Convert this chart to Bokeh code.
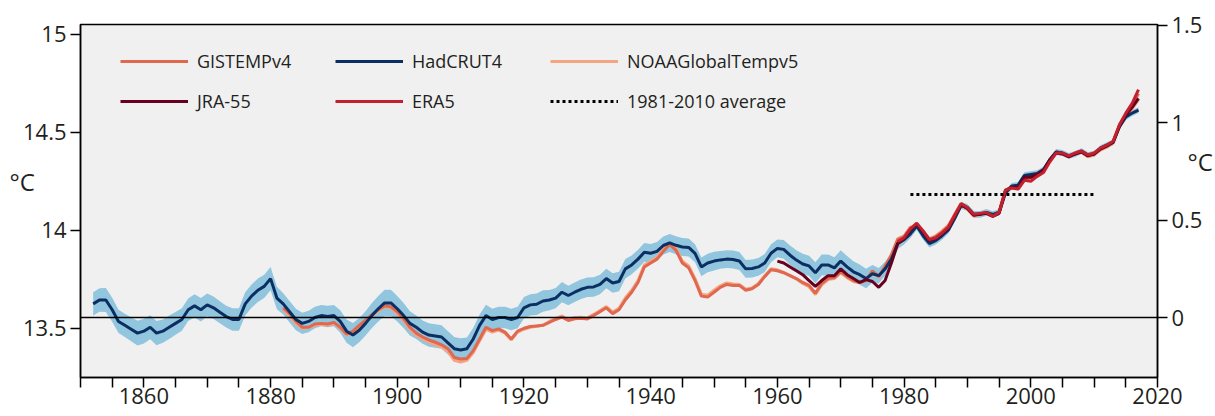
from bokeh.plotting import figure
from bokeh.models import Range1d, LinearAxis, FixedTicker, Span, Legend, LegendItem
from bokeh.embed import file_html
from bokeh.resources import INLINE

FONT = "Open Sans"

# ---------------- data (anomaly vs 1850-1900, degC) ----------------
hadcrut_years = list(range(1852, 2018))
hadcrut4 = [
    0.07, 0.09, 0.09, 0.04, -0.02, -0.04, -0.06, -0.08, -0.07, -0.05,
    -0.08, -0.07, -0.05, -0.03, -0.01, 0.04, 0.06, 0.04, 0.065, 0.05,
    0.027, 0.005, -0.01, -0.01, 0.07, 0.11, 0.14, 0.16, 0.20, 0.10,
    0.07, 0.03, -0.01, -0.03, -0.02, 0.0, 0.01, 0.005, 0.01, -0.02,
    -0.07, -0.09, -0.065, -0.03, 0.01, 0.045, 0.075, 0.075, 0.045, 0.01,
    -0.03, -0.05, -0.075, -0.09, -0.095, -0.10, -0.13, -0.16, -0.167, -0.16,
    -0.11, -0.04, 0.01, -0.01, 0.0, 0.0, -0.01, 0.0, 0.05, 0.065,
    0.068, 0.085, 0.09, 0.10, 0.13, 0.113, 0.13, 0.145, 0.155, 0.157,
    0.17, 0.20, 0.177, 0.185, 0.25, 0.27, 0.30, 0.335, 0.33, 0.34,
    0.37, 0.383, 0.371, 0.362, 0.36, 0.33, 0.26, 0.28, 0.29, 0.296,
    0.30, 0.298, 0.29, 0.25, 0.252, 0.26, 0.28, 0.33, 0.355, 0.35,
    0.32, 0.295, 0.275, 0.265, 0.23, 0.27, 0.27, 0.255, 0.29, 0.26,
    0.235, 0.22, 0.20, 0.225, 0.215, 0.25, 0.30, 0.38, 0.40, 0.43,
    0.47, 0.42, 0.38, 0.395, 0.42, 0.45, 0.51, 0.575, 0.565, 0.53,
    0.53, 0.54, 0.53, 0.54, 0.64, 0.675, 0.68, 0.73, 0.735, 0.74,
    0.76, 0.81, 0.85, 0.845, 0.83, 0.84, 0.855, 0.835, 0.84, 0.87,
    0.885, 0.90, 0.98, 1.03, 1.05, 1.065,
]
hadcrut4_unc = [
    0.060, 0.060, 0.062, 0.062, 0.060, 0.060, 0.062, 0.064, 0.064, 0.062,
    0.062, 0.060, 0.060, 0.058, 0.058, 0.058, 0.060, 0.060, 0.058, 0.058,
    0.056, 0.056, 0.058, 0.058, 0.060, 0.060, 0.060, 0.060, 0.060, 0.058,
    0.055, 0.055, 0.055, 0.055, 0.055, 0.055, 0.055, 0.055, 0.055, 0.058,
    0.060, 0.062, 0.062, 0.062, 0.064, 0.066, 0.068, 0.068, 0.066, 0.064,
    0.062, 0.060, 0.060, 0.060, 0.060, 0.060, 0.060, 0.060, 0.060, 0.058,
    0.058, 0.056, 0.056, 0.055, 0.055, 0.055, 0.055, 0.055, 0.055, 0.055,
    0.055, 0.055, 0.052, 0.052, 0.052, 0.050, 0.050, 0.050, 0.050, 0.050,
    0.050, 0.050, 0.050, 0.050, 0.050, 0.048, 0.048, 0.048, 0.048, 0.048,
    0.046, 0.046, 0.046, 0.046, 0.046, 0.046, 0.048, 0.048, 0.048, 0.046,
    0.046, 0.046, 0.046, 0.046, 0.046, 0.046, 0.046, 0.046, 0.046, 0.048,
    0.050, 0.050, 0.052, 0.052, 0.054, 0.054, 0.054, 0.054, 0.056, 0.056,
    0.054, 0.052, 0.050, 0.045, 0.040, 0.036, 0.032, 0.028, 0.025, 0.022,
    0.020, 0.020, 0.020, 0.020, 0.020, 0.018, 0.018, 0.018, 0.018, 0.017,
    0.017, 0.017, 0.016, 0.016, 0.016, 0.016, 0.016, 0.016, 0.016, 0.016,
    0.015, 0.015, 0.015, 0.015, 0.015, 0.015, 0.015, 0.015, 0.015, 0.015,
    0.015, 0.015, 0.015, 0.015, 0.015, 0.015,
]

sst_years = list(range(1882, 2018))
gistemp4 = [
    0.05, 0.02, -0.02, -0.05, -0.05, -0.033, -0.03, -0.033, -0.025, -0.05,
    -0.085, -0.07, -0.04, -0.013, 0.015, 0.04, 0.06, 0.055, 0.03, -0.005,
    -0.05, -0.08, -0.10, -0.115, -0.127, -0.14, -0.16, -0.205, -0.213, -0.21,
    -0.17, -0.11, -0.05, -0.067, -0.058, -0.075, -0.11, -0.07, -0.055, -0.046,
    -0.043, -0.04, -0.025, -0.01, 0.002, -0.015, -0.006, -0.004, -0.007, 0.01,
    0.03, 0.05, 0.02, 0.04, 0.09, 0.13, 0.18, 0.26, 0.28, 0.30,
    0.34, 0.375, 0.345, 0.28, 0.255, 0.19, 0.11, 0.105, 0.13, 0.155,
    0.17, 0.165, 0.165, 0.14, 0.148, 0.17, 0.21, 0.245, 0.24, 0.23,
    0.215, 0.20, 0.18, 0.165, 0.125, 0.175, 0.20, 0.205, 0.235, 0.21,
    0.19, 0.18, 0.19, 0.24, 0.21, 0.265, 0.32, 0.40, 0.415, 0.46,
    0.47, 0.445, 0.40, 0.415, 0.44, 0.47, 0.53, 0.585, 0.56, 0.525,
    0.535, 0.54, 0.525, 0.545, 0.655, 0.67, 0.665, 0.715, 0.72, 0.74,
    0.75, 0.805, 0.85, 0.845, 0.83, 0.845, 0.855, 0.835, 0.845, 0.87,
    0.885, 0.905, 0.99, 1.045, 1.09, 1.15,
]
noaa5 = [
    0.04, 0.01, -0.03, -0.055, -0.05, -0.04, -0.035, -0.04, -0.03, -0.055,
    -0.09, -0.08, -0.05, -0.02, 0.01, 0.035, 0.055, 0.05, 0.02, -0.015,
    -0.06, -0.09, -0.11, -0.125, -0.14, -0.15, -0.175, -0.22, -0.228, -0.22,
    -0.18, -0.12, -0.06, -0.075, -0.065, -0.08, -0.115, -0.075, -0.06, -0.05,
    -0.045, -0.04, -0.02, -0.005, 0.008, -0.01, 0.0, 0.002, -0.002, 0.016,
    0.036, 0.056, 0.028, 0.048, 0.10, 0.14, 0.19, 0.27, 0.29, 0.31,
    0.35, 0.38, 0.355, 0.29, 0.265, 0.20, 0.12, 0.115, 0.14, 0.163,
    0.178, 0.172, 0.17, 0.145, 0.152, 0.175, 0.215, 0.25, 0.245, 0.232,
    0.215, 0.198, 0.175, 0.158, 0.118, 0.168, 0.195, 0.20, 0.23, 0.205,
    0.185, 0.178, 0.19, 0.235, 0.205, 0.26, 0.325, 0.405, 0.42, 0.465,
    0.465, 0.44, 0.405, 0.42, 0.445, 0.475, 0.525, 0.58, 0.555, 0.52,
    0.53, 0.535, 0.52, 0.54, 0.65, 0.665, 0.66, 0.71, 0.715, 0.735,
    0.745, 0.80, 0.845, 0.84, 0.825, 0.84, 0.85, 0.825, 0.835, 0.86,
    0.875, 0.895, 0.98, 1.035, 1.07, 1.12,
]

jra_years = list(range(1960, 2018))
jra55 = [
    0.29, 0.28, 0.26, 0.24, 0.22, 0.19, 0.16, 0.19, 0.215, 0.215,
    0.25, 0.22, 0.20, 0.18, 0.195, 0.185, 0.155, 0.19, 0.28, 0.38,
    0.405, 0.45, 0.48, 0.44, 0.395, 0.405, 0.43, 0.46, 0.52, 0.58,
    0.56, 0.525, 0.53, 0.535, 0.52, 0.535, 0.65, 0.67, 0.665, 0.72,
    0.72, 0.735, 0.755, 0.81, 0.845, 0.84, 0.825, 0.84, 0.85, 0.83,
    0.84, 0.865, 0.88, 0.90, 0.985, 1.04, 1.08, 1.125,
]

era_years = list(range(1979, 2018))
era5 = [
    0.39, 0.41, 0.455, 0.485, 0.445, 0.40, 0.41, 0.435, 0.465, 0.525,
    0.585, 0.565, 0.53, 0.535, 0.54, 0.52, 0.54, 0.655, 0.665, 0.66,
    0.705, 0.70, 0.725, 0.745, 0.80, 0.845, 0.845, 0.83, 0.845, 0.855,
    0.835, 0.845, 0.87, 0.885, 0.905, 0.99, 1.05, 1.10, 1.17,
]

avg_years = [1981, 2010]
avg_value = 0.632

x_ticks = list(range(1850, 2021, 5))
left_ticks = [13.5, 14, 14.5, 15]
right_ticks = [0, 0.5, 1, 1.5]

# ---------------- colours ----------------
C_BAND = "#92c5de"
C_HAD = "#0b2f62"
C_GIS = "#e0684f"
C_NOAA = "#f4a582"
C_JRA = "#67001f"
C_ERA = "#c3202f"
TXT = "#231f20"

p = figure(width=1215, height=416, output_backend="svg", toolbar_location=None,
           x_range=Range1d(1850, 2020), y_range=Range1d(13.25, 15.051),
           min_border_left=80, min_border_right=57, min_border_top=24, min_border_bottom=39)
p.extra_y_ranges = {"anom": Range1d(-0.308, 1.505)}
right_axis = LinearAxis(y_range_name="anom", ticker=FixedTicker(ticks=right_ticks))
right_axis.major_label_overrides = {0: "0", 0.5: "0.5", 1: "1", 1.5: "1.5"}
right_axis.axis_label = "°C\n \n "
right_axis.axis_label_standoff = -18
p.add_layout(right_axis, "right")

left_axis = p.yaxis[0]
left_axis.ticker = FixedTicker(ticks=left_ticks)
left_axis.major_label_overrides = {13.5: "13.5", 14: "14", 14.5: "14.5", 15: "15"}
left_axis.axis_label = "°C\n "
left_axis.axis_label_standoff = -15

p.xaxis.ticker = FixedTicker(ticks=x_ticks)
p.xaxis.major_label_overrides = {t: (str(t) if t % 20 == 0 and t > 1850 else "") for t in x_ticks}

for ax in p.axis:
    ax.axis_line_color = "black"
    ax.axis_line_width = 1.5
    ax.major_tick_line_color = "black"
    ax.major_tick_line_width = 1.5
    ax.major_tick_out = 10
    ax.major_tick_in = 0
    ax.minor_tick_out = 0
    ax.minor_tick_in = 0
    ax.major_label_text_font = FONT
    ax.major_label_text_font_size = "22px"
    ax.major_label_text_color = TXT
    ax.major_label_standoff = 4
    ax.axis_label_text_font = FONT
    ax.axis_label_text_font_size = "24px"
    ax.axis_label_text_font_style = "normal"
    ax.axis_label_text_color = TXT
    ax.axis_label_orientation = "horizontal"
p.xaxis.major_label_standoff = 0

p.xgrid.visible = False
p.ygrid.visible = False
p.background_fill_color = "#f0f0f0"
p.border_fill_color = "white"
p.outline_line_color = "black"
p.outline_line_width = 1.5

lower = [v - u for v, u in zip(hadcrut4, hadcrut4_unc)]
upper = [v + u for v, u in zip(hadcrut4, hadcrut4_unc)]
p.varea(x=hadcrut_years, y1=lower, y2=upper, fill_color=C_BAND, fill_alpha=1.0,
        y_range_name="anom")

p.add_layout(Span(location=0, dimension="width", line_color="black", line_width=1.5,
                  y_range_name="anom"))

r_noaa = p.line(sst_years, noaa5, line_color=C_NOAA, line_width=3, y_range_name="anom")
r_gis = p.line(sst_years, gistemp4, line_color=C_GIS, line_width=3, y_range_name="anom")
r_had = p.line(hadcrut_years, hadcrut4, line_color=C_HAD, line_width=3, y_range_name="anom")
r_jra = p.line(jra_years, jra55, line_color=C_JRA, line_width=3, y_range_name="anom")
r_era = p.line(era_years, era5, line_color=C_ERA, line_width=3, y_range_name="anom")
r_avg = p.line(avg_years, [avg_value, avg_value], line_color="black", line_width=3,
               line_dash="3 3", y_range_name="anom")

legend = Legend(items=[
    LegendItem(label="GISTEMPv4", renderers=[r_gis]),
    LegendItem(label="HadCRUT4", renderers=[r_had]),
    LegendItem(label="NOAAGlobalTempv5", renderers=[r_noaa]),
    LegendItem(label="JRA-55", renderers=[r_jra]),
    LegendItem(label="ERA5", renderers=[r_era]),
    LegendItem(label="1981-2010 average", renderers=[r_avg]),
], location=(40, 261), orientation="horizontal", ncols=3,
    glyph_width=68, glyph_height=30, label_height=30, label_width=128,
    label_standoff=9, spacing=10, padding=0, margin=0,
    border_line_color=None, background_fill_alpha=0,
    label_text_font=FONT, label_text_font_size="18px", label_text_color=TXT)
p.add_layout(legend)

open("out.html", "w").write(file_html(p, INLINE))
